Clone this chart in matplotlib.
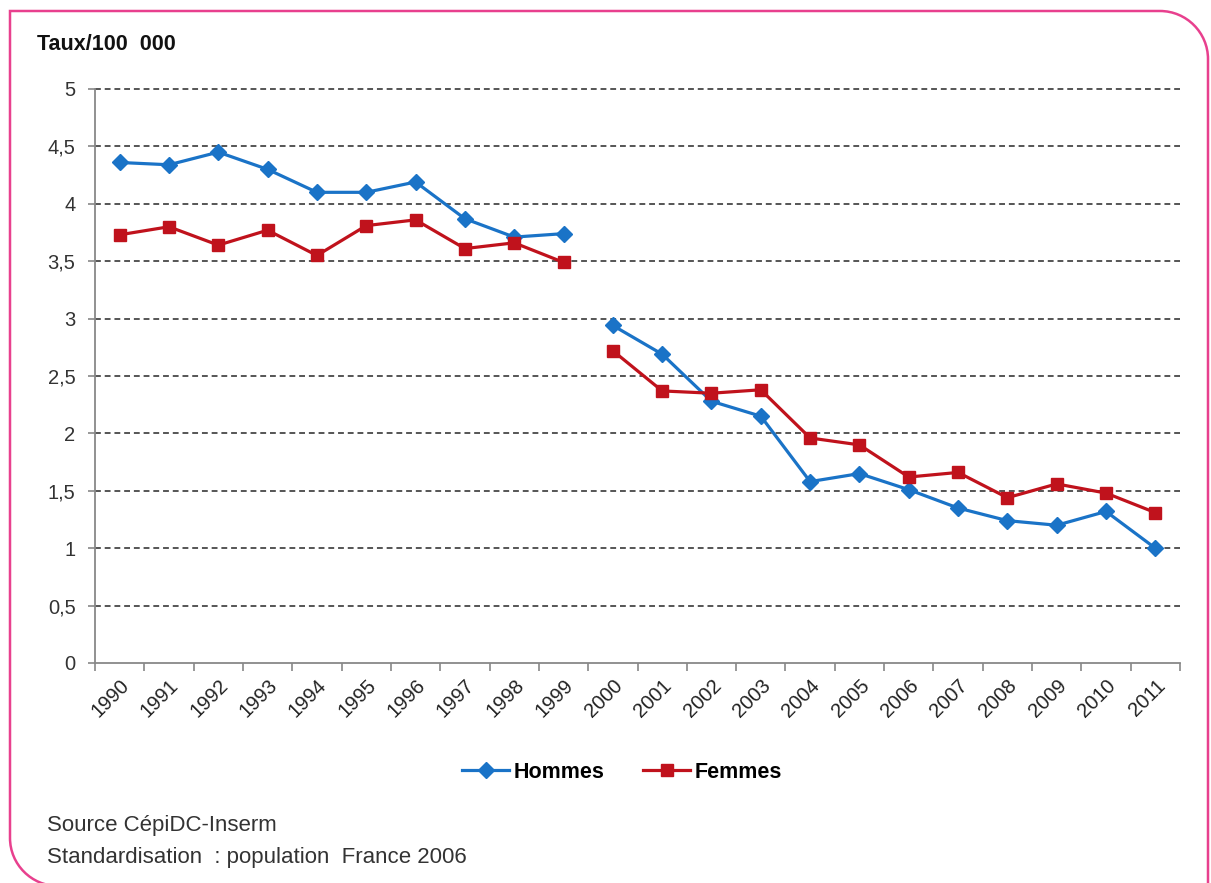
import numpy as np
import matplotlib.pyplot as plt
from matplotlib.path import Path
from matplotlib.patches import PathPatch
from matplotlib.lines import Line2D

plt.rcParams['font.family'] = ['Liberation Sans', 'DejaVu Sans']

years = [str(y) for y in range(1990, 2012)]
hommes = [4.36, 4.34, 4.45, 4.30, 4.10, 4.10, 4.19, 3.87, 3.71, 3.74,
          2.94, 2.69, 2.28, 2.15, 1.58, 1.65, 1.51, 1.35, 1.24, 1.20, 1.32, 1.00]
femmes = [3.73, 3.80, 3.64, 3.77, 3.55, 3.81, 3.86, 3.61, 3.66, 3.49,
          2.72, 2.37, 2.35, 2.38, 1.96, 1.90, 1.62, 1.66, 1.44, 1.56, 1.48, 1.31]
y_ticks = [0, 0.5, 1, 1.5, 2, 2.5, 3, 3.5, 4, 4.5, 5]
y_labels = ["0", "0,5", "1", "1,5", "2", "2,5", "3", "3,5", "4", "4,5", "5"]
# the series is broken between 1999 and 2000
segments = [slice(0, 10), slice(10, 22)]

blue = "#1a73c7"
red = "#c0121c"
pink = "#e8408e"

W, H = 1211, 883
fig = plt.figure(figsize=(W / 100, H / 100), dpi=100)
ax = fig.add_axes([95 / W, 1 - 663 / H, (1180 - 95) / W, (663 - 89) / H])

x = np.arange(len(years))
for s in segments:
    ax.plot(x[s], hommes[s], color=blue, lw=2.3, marker="D", ms=8.5,
            markeredgecolor=blue, zorder=3)
    ax.plot(x[s], femmes[s], color=red, lw=2.3, marker="s", ms=8.5,
            markeredgecolor=red, zorder=3)

ax.set_xlim(-0.5, len(years) - 0.5)
ax.set_ylim(0, 5)
ax.set_yticks(y_ticks)
ax.set_yticklabels(y_labels, fontsize=14.5, color="#333333")
ax.set_xticks(x)
ax.set_xticklabels(years, rotation=45, ha="right", rotation_mode="anchor",
                   fontsize=14.5, color="#222222")
ax.set_xticks(np.arange(-0.5, len(years)), minor=True)
ax.tick_params(axis="x", which="major", length=0, pad=9)
ax.tick_params(axis="x", which="minor", length=6, color="#888888", width=1.2)
ax.tick_params(axis="y", length=5, color="#888888", width=1.2, pad=9)

for yv in y_ticks[1:]:
    ax.axhline(yv, color="#555555", lw=1.4, ls=(0, (3, 2)), zorder=1,
               clip_on=False)

for side in ["top", "right"]:
    ax.spines[side].set_visible(False)
for side in ["left", "bottom"]:
    ax.spines[side].set_color("#888888")
    ax.spines[side].set_linewidth(1.3)

fig.text(37 / W, 1 - 44 / H, "Taux/100  000", fontsize=15.5, fontweight="bold",
         va="center", ha="left", color="#111111")

handles = [Line2D([], [], color=blue, lw=2.3, marker="D", ms=8.5),
           Line2D([], [], color=red, lw=2.3, marker="s", ms=8.5)]
fig.legend(handles, ["Hommes", "Femmes"], loc="center", ncol=2,
           bbox_to_anchor=(622 / W, 1 - 772 / H), frameon=False,
           prop={"size": 15.5, "weight": "bold"}, handlelength=2.2,
           handletextpad=0.2, columnspacing=1.8)

fig.text(47 / W, 1 - 826 / H, "Source CépiDC-Inserm", fontsize=16,
         va="center", ha="left", color="#333333")
fig.text(47 / W, 1 - 857 / H, "Standardisation  : population  France 2006",
         fontsize=16, va="center", ha="left", color="#333333")

# pink frame with two rounded corners
r = 48
k = 0.55 * r
verts = [(1208, 900), (1208, 11 + r),
         (1208, 11 + r - k), (1208 - r + k, 11), (1208 - r, 11),
         (10, 11),
         (10, 883 - r + 3),
         (10, 883 - r + 3 + k), (10 + r - k, 886), (10 + r, 886)]
codes = [Path.MOVETO, Path.LINETO,
         Path.CURVE4, Path.CURVE4, Path.CURVE4,
         Path.LINETO,
         Path.LINETO,
         Path.CURVE4, Path.CURVE4, Path.CURVE4]
verts = [(vx / W, 1 - vy / H) for vx, vy in verts]
fig.patches.append(PathPatch(Path(verts, codes), fill=False, edgecolor=pink,
                             lw=1.8, transform=fig.transFigure, clip_on=False))

fig.savefig("out.png", dpi=100)
